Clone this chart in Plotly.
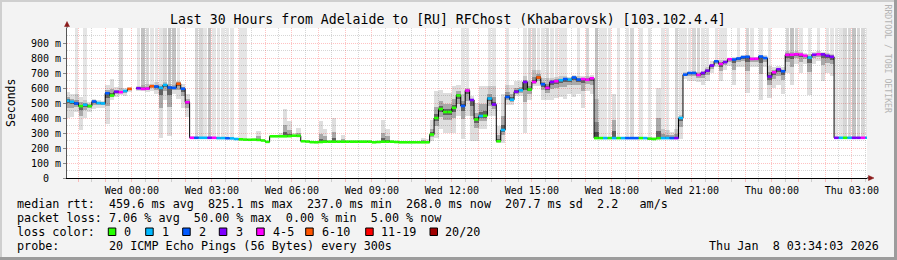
import plotly.graph_objects as go
import pandas as pd

# ---------------- data (10-minute steps, first step starts Tue 2026-01-06 21:30) ----------------
step_start = pd.date_range("2026-01-06 21:30", periods=181, freq="10min")

median_ms = [
    515, 508, 497, 479, 488, 479, 510, 500, 497, 565,
    550, 575, 572, 580, 594, None, 598, 594, 596, 612,
    610, 601, 620, 603, 601, 628, 595, 505, 268, 268,
    268, 268, 268, 268, 266, 266, 265, 264, 260, 258,
    256, 255, 256, 254, 250, 241, 278, 278, 278, 278,
    279, 282, 281, 245, 243, 239, 238, 240, 242, 242,
    242, 242, 242, 242, 242, 242, 242, 242, 242, 238,
    240, 242, 242, 242, 240, 238, 238, 238, 238, 238,
    238, 238, 290, 400, 460, 440, 440, 468, 550, 480,
    583, 520, 390, 413, 415, 530, 490, 245, 320, 540,
    522, 575, 585, 640, 590, 640, 670, 625, 601, 640,
    645, 652, 660, 656, 670, 656, 660, 655, 665, 266,
    266, 266, 266, 266, 266, 266, 266, 266, 266, 266,
    266, 262, 260, 265, 266, 266, 266, 266, 400, 689,
    700, 700, 687, 700, 715, 750, 778, 760, 773, 792,
    790, 797, 806, 808, 794, 795, 810, 800, 676, 705,
    725, 712, 821, 822, 825, 823, 815, 803, 822, 825,
    824, 815, 808, 268, 268, 268, 268, 268, 268, 268,
    268,
]

loss_pings = [
    1, 1, 2, 0, 1, 0, 2, 1, 1, 2,
    0, 3, 4, 1, 6, 0, 3, 4, 4, 6,
    2, 1, 1, 2, 2, 6, 2, 4, 4, 2,
    1, 1, 3, 4, 1, 1, 2, 1, 1, 0,
    0, 0, 0, 0, 0, 0, 0, 0, 0, 0,
    0, 0, 0, 0, 0, 0, 0, 0, 0, 0,
    0, 0, 0, 0, 0, 0, 0, 0, 0, 0,
    0, 0, 0, 0, 0, 0, 0, 0, 0, 0,
    0, 0, 0, 0, 0, 0, 0, 0, 0, 2,
    4, 3, 0, 1, 0, 1, 3, 0, 1, 2,
    1, 3, 1, 3, 0, 4, 6, 2, 4, 3,
    4, 1, 2, 1, 2, 2, 4, 5, 4, 0,
    0, 1, 0, 1, 0, 1, 2, 2, 2, 0,
    1, 0, 0, 0, 1, 1, 2, 3, 1, 2,
    2, 2, 4, 3, 3, 3, 2, 4, 3, 4,
    2, 2, 2, 2, 4, 4, 2, 2, 3, 4,
    3, 2, 4, 4, 5, 4, 4, 1, 3, 4,
    3, 3, 3, 3, 1, 0, 1, 3, 3, 4,
    1,
]

smoke_min_ms = [
    400, 410, 440, 320, 400, 440, 460, 470, 470, 360,
    520, 540, 555, 550, 575, None, 580, 580, 575, 580,
    560, 270, 520, 280, 560, 530, 470, 410, 262, 262,
    262, 262, 262, 262, 262, 262, 258, 257, 254, 250,
    250, 250, 250, 248, 244, 236, 272, 272, 272, 272,
    272, 276, 275, 240, 238, 235, 235, 236, 237, 237,
    237, 237, 237, 237, 237, 237, 237, 237, 237, 235,
    236, 237, 237, 237, 236, 235, 235, 235, 235, 235,
    235, 235, 247, 269, 324, 302, 302, 302, 413, 258,
    413, 247, 247, 324, 324, 413, 413, 236, 236, 490,
    490, 545, 545, 302, 520, 612, 612, 523, 523, 523,
    534, 540, 530, 560, 540, 560, 468, 580, 560, 258,
    258, 258, 258, 258, 258, 258, 258, 258, 258, 258,
    258, 256, 255, 258, 258, 258, 258, 258, 258, 660,
    650, 650, 640, 623, 650, 700, 740, 645, 720, 745,
    623, 740, 740, 568, 740, 740, 523, 740, 534, 600,
    620, 560, 700, 623, 760, 700, 760, 556, 760, 780,
    650, 700, 680, 262, 262, 262, 262, 262, 262, 262,
    262,
]

smoke_max_ms = [
    575, 560, 560, 540, 520, 510, 530, 520, 515, 620,
    660, 610, 600, 600, 610, None, 615, 620, 625, 630,
    640, 630, 640, 625, 620, 650, 630, 560, 280, 275,
    275, 275, 275, 275, 275, 275, 272, 270, 268, 265,
    262, 262, 262, 315, 260, 250, 290, 290, 300, 460,
    380, 300, 335, 255, 252, 248, 248, 380, 330, 255,
    400, 255, 290, 252, 252, 252, 252, 252, 252, 248,
    250, 390, 330, 252, 250, 248, 248, 248, 248, 248,
    270, 260, 390, 579, 590, 568, 568, 612, 623, 560,
    601, 545, 500, 612, 612, 612, 612, 346, 560, 623,
    623, 645, 645, 678, 650, 722, 722, 667, 667, 667,
    675, 678, 680, 675, 690, 678, 680, 680, 690, 530,
    275, 275, 275, 560, 275, 275, 275, 275, 275, 275,
    275, 275, 275, 600, 330, 320, 310, 330, 420, 705,
    710, 712, 705, 712, 740, 780, 790, 790, 790, 800,
    805, 810, 820, 820, 810, 805, 820, 822, 745, 740,
    745, 740, 844, 840, 844, 840, 835, 830, 840, 844,
    840, 835, 830, 275, 275, 275, 275, 275, 275, 275,
    275,
]

# shade of the "lost pings" columns reaching the top (0 = none, 1 light .. 3 dark)
lost_column_shade = [
    0, 0, 1, 0, 1, 0, 0, 0, 0, 0,
    0, 0, 2, 0, 0, 0, 1, 3, 2, 1,
    1, 1, 2, 3, 3, 1, 0, 0, 0, 2,
    2, 1, 3, 1, 1, 1, 1, 1, 0, 1,
    1, 0, 0, 0, 0, 0, 0, 0, 0, 0,
    0, 0, 0, 0, 0, 0, 0, 0, 0, 0,
    0, 0, 0, 0, 0, 0, 0, 0, 0, 0,
    0, 0, 0, 0, 0, 0, 0, 0, 0, 0,
    0, 0, 0, 0, 0, 0, 0, 0, 0, 1,
    1, 0, 0, 0, 0, 1, 1, 0, 0, 1,
    0, 0, 0, 1, 2, 2, 1, 1, 2, 1,
    1, 1, 1, 0, 0, 1, 0, 2, 0, 3,
    1, 1, 1, 0, 1, 0, 1, 2, 0, 1,
    0, 1, 0, 0, 1, 1, 0, 2, 1, 1,
    1, 2, 2, 1, 1, 0, 1, 1, 1, 0,
    0, 1, 0, 2, 1, 0, 1, 0, 1, 0,
    0, 0, 2, 3, 2, 1, 0, 1, 0, 1,
    0, 1, 1, 1, 1, 2, 2, 3, 2, 2,
    1,
]

loss_labels = ["0", "1", "2", "3", "4-5", "6-10", "11-19", "20/20"]
loss_colors = ["#26ff00", "#00b8ff", "#0059ff", "#7e00ff", "#ff00ff", "#ff5500", "#ff0000", "#a00000"]

y_tick_vals = [0, 100, 200, 300, 400, 500, 600, 700, 800, 900]
y_tick_text = ["0\u00a0\u00a0", "100 m", "200 m", "300 m", "400 m", "500 m", "600 m", "700 m", "800 m", "900 m"]

x_range = ["2026-01-06 21:34:03", "2026-01-08 03:34:03"]
x_hour_ticks = pd.date_range("2026-01-06 22:00", "2026-01-08 03:00", freq="1h")
x_tick_text = [t.strftime("%a %H:%M") if t.hour % 3 == 0 else "" for t in x_hour_ticks]
x_half_ticks = pd.date_range("2026-01-06 21:30", "2026-01-08 03:30", freq="1h")

title_text = "Last 30 Hours from Adelaide to [RU] RFChost (Khabarovsk) [103.102.4.4]"
stat_lines = [
    "median rtt:  459.6 ms avg  825.1 ms max  237.0 ms min  268.0 ms now  207.7 ms sd  2.2   am/s",
    "packet loss: 7.06 % avg  50.00 % max  0.00 % min  5.00 % now",
    "loss color:",
    "probe:       20 ICMP Echo Pings (56 Bytes) every 300s",
]
stamp_text = "Thu Jan  8 03:34:03 2026"

# ---------------- helpers ----------------
STEP = pd.Timedelta(minutes=10)
STEP_MS = 600000
W, H = 897, 260
L, R, T, B = 67, 30, 28, 82
PW, PH = W - L - R, H - T - B


def px_x(px):
    return (px - L) / PW


def px_y(py):
    return (H - B - py) / PH


def nb(s):
    return s.replace(" ", "\u00a0")


def loss_class(n):
    if n <= 3:
        return n
    if n <= 5:
        return 4
    if n <= 10:
        return 5
    if n <= 19:
        return 6
    return 7


centers = [s + STEP / 2 for s in step_start]
fig = go.Figure()

# columns of lost pings reaching the top of the graph
shade_colors = {1: "rgba(0,0,0,0.10)", 2: "rgba(0,0,0,0.16)", 3: "rgba(0,0,0,0.24)"}
for lvl, col in shade_colors.items():
    xs, base, hgt = [], [], []
    for c, m, s in zip(centers, median_ms, lost_column_shade):
        if s == lvl and m is not None:
            xs.append(c)
            base.append(m)
            hgt.append(1000 - m)
    fig.add_trace(go.Bar(x=xs, y=hgt, base=base, width=STEP_MS * 0.8,
                         marker=dict(color=col, line=dict(width=0)), hoverinfo="skip"))

# smoke
for frac, col in [(1.0, "rgba(0,0,0,0.13)"), (0.4, "rgba(0,0,0,0.24)"), (0.15, "rgba(0,0,0,0.42)")]:
    xs, base, hgt = [], [], []
    for c, m, lo, hi in zip(centers, median_ms, smoke_min_ms, smoke_max_ms):
        if m is None or lo is None:
            continue
        b = m - frac * (m - lo)
        t = m + frac * (hi - m)
        xs.append(c)
        base.append(b)
        hgt.append(max(t - b, 1))
    fig.add_trace(go.Bar(x=xs, y=hgt, base=base, width=STEP_MS, marker=dict(color=col, line=dict(width=0)),
                         hoverinfo="skip"))

# black median step line
fig.add_trace(go.Scatter(x=list(step_start) + [step_start[-1] + STEP], y=median_ms + [median_ms[-1]],
                         mode="lines", line=dict(color="#000000", width=1, shape="hv"),
                         connectgaps=False, hoverinfo="skip"))

# median coloured by loss
for ci, col in enumerate(loss_colors):
    xs, ys = [], []
    for s, m, n in zip(step_start, median_ms, loss_pings):
        if m is None or loss_class(n) != ci:
            continue
        xs += [s, s + STEP, None]
        ys += [m, m, None]
    if xs:
        fig.add_trace(go.Scatter(x=xs, y=ys, mode="lines", line=dict(color=col, width=2.6),
                                 connectgaps=False, hoverinfo="skip"))

grid_major = "rgba(255,0,0,0.24)"
grid_minor = "rgba(120,120,120,0.30)"

fig.update_layout(
    width=W, height=H,
    margin=dict(l=L, r=R, t=T, b=B),
    paper_bgcolor="#f3f3f3", plot_bgcolor="#ffffff",
    showlegend=False, barmode="overlay", bargap=0,
    font=dict(family="DejaVu Sans Mono", size=10, color="#000000"),
    xaxis=dict(
        type="date", range=x_range, tickmode="array", tickvals=list(x_hour_ticks), ticktext=x_tick_text,
        showgrid=True, gridcolor=grid_major, griddash="1px,1px", gridwidth=1,
        ticks="outside", ticklen=3, tickcolor=grid_major,
        minor=dict(tickmode="array", tickvals=list(x_half_ticks), showgrid=True, gridcolor=grid_minor,
                   griddash="1px,1px", ticks="outside", ticklen=3, tickcolor=grid_minor),
        showline=True, linecolor="#000000", linewidth=1, zeroline=False,
        tickfont=dict(family="DejaVu Sans Mono", size=10, color="#000000"),
    ),
    yaxis=dict(
        range=[0, 1000], tickmode="array", tickvals=y_tick_vals, ticktext=y_tick_text,
        showgrid=True, gridcolor=grid_major, griddash="1px,1px", gridwidth=1,
        ticks="outside", ticklen=3, tickcolor="#888888",
        minor=dict(tick0=50, dtick=100, showgrid=True, gridcolor=grid_minor, griddash="1px,1px"),
        showline=True, linecolor="#555555", linewidth=1, zeroline=False,
        tickfont=dict(family="DejaVu Sans Mono", size=10, color="#000000"),
    ),
)

ann = []
ann.append(dict(text=nb(title_text), x=px_x(447.5), y=px_y(19.5), xref="paper", yref="paper",
                showarrow=False, xanchor="center", yanchor="middle",
                font=dict(family="DejaVu Sans Mono", size=13.2, color="#000000")))
ann.append(dict(text="Seconds", x=px_x(11), y=px_y(103), xref="paper", yref="paper", textangle=-90,
                showarrow=False, xanchor="center", yanchor="middle",
                font=dict(family="DejaVu Sans Mono", size=11.5, color="#000000")))
ann.append(dict(text=nb("RRDTOOL / TOBI OETIKER"), x=px_x(887.5), y=px_y(59), xref="paper", yref="paper",
                textangle=90, showarrow=False, xanchor="center", yanchor="middle",
                font=dict(family="DejaVu Sans Mono", size=8.2, color="#b4b4b4")))
for i, line in enumerate(stat_lines):
    ann.append(dict(text=nb(line), x=px_x(16), y=px_y(204.3 + 14 * i), xref="paper", yref="paper",
                    showarrow=False, xanchor="left", yanchor="middle", borderpad=0,
                    font=dict(family="DejaVu Sans Mono", size=11.75, color="#000000")))
ann.append(dict(text=nb(stamp_text), x=px_x(880), y=px_y(246.3), xref="paper", yref="paper",
                showarrow=False, xanchor="right", yanchor="middle", borderpad=0,
                font=dict(family="DejaVu Sans Mono", size=11.75, color="#000000")))

box_px = [108.3, 145.7, 182.7, 219.3, 256.7, 305.7, 365.7, 430.0]
label_px = [123.3, 160.7, 197.7, 234.7, 271.7, 320.7, 380.0, 444.0]
shapes = []
for bx, lx, lab, col in zip(box_px, label_px, loss_labels, loss_colors):
    shapes.append(dict(type="rect", xref="paper", yref="paper", x0=px_x(bx), x1=px_x(bx + 7.5),
                       y0=px_y(235.5), y1=px_y(228), fillcolor=col, line=dict(color="#000000", width=1)))
    ann.append(dict(text=lab, x=px_x(lx), y=px_y(232.3), xref="paper", yref="paper",
                    showarrow=False, xanchor="left", yanchor="middle", borderpad=0,
                    font=dict(family="DejaVu Sans Mono", size=11.75, color="#000000")))

# axis arrows
arrow_col = "#8b1a1a"
shapes.append(dict(type="line", xref="paper", yref="paper", x0=0, x1=0, y0=1, y1=px_y(25),
                   line=dict(color="#555555", width=1)))
shapes.append(dict(type="path", xref="paper", yref="paper",
                   path=f"M {px_x(64.5)},{px_y(26.5)} L {px_x(69.5)},{px_y(26.5)} L {px_x(67)},{px_y(21.5)} Z",
                   fillcolor=arrow_col, line=dict(color=arrow_col, width=0.5)))
shapes.append(dict(type="line", xref="paper", yref="paper", x0=1, x1=px_x(870), y0=0, y1=0,
                   line=dict(color="#000000", width=1)))
shapes.append(dict(type="path", xref="paper", yref="paper",
                   path=f"M {px_x(868.5)},{px_y(175.5)} L {px_x(868.5)},{px_y(180.5)} L {px_x(874)},{px_y(178)} Z",
                   fillcolor=arrow_col, line=dict(color=arrow_col, width=0.5)))

# frame around the image
shapes.append(dict(type="rect", xref="paper", yref="paper", x0=px_x(0), x1=px_x(W), y0=px_y(2), y1=px_y(0),
                   fillcolor="#cfcfcf", line=dict(width=0)))
shapes.append(dict(type="rect", xref="paper", yref="paper", x0=px_x(0), x1=px_x(2), y0=px_y(H), y1=px_y(0),
                   fillcolor="#cfcfcf", line=dict(width=0)))
shapes.append(dict(type="rect", xref="paper", yref="paper", x0=px_x(0), x1=px_x(W), y0=px_y(H), y1=px_y(H - 3),
                   fillcolor="#9c9c9c", line=dict(width=0)))
shapes.append(dict(type="rect", xref="paper", yref="paper", x0=px_x(W - 3), x1=px_x(W), y0=px_y(H), y1=px_y(0),
                   fillcolor="#9c9c9c", line=dict(width=0)))

fig.update_layout(annotations=ann, shapes=shapes)
fig.write_html("out.html")
